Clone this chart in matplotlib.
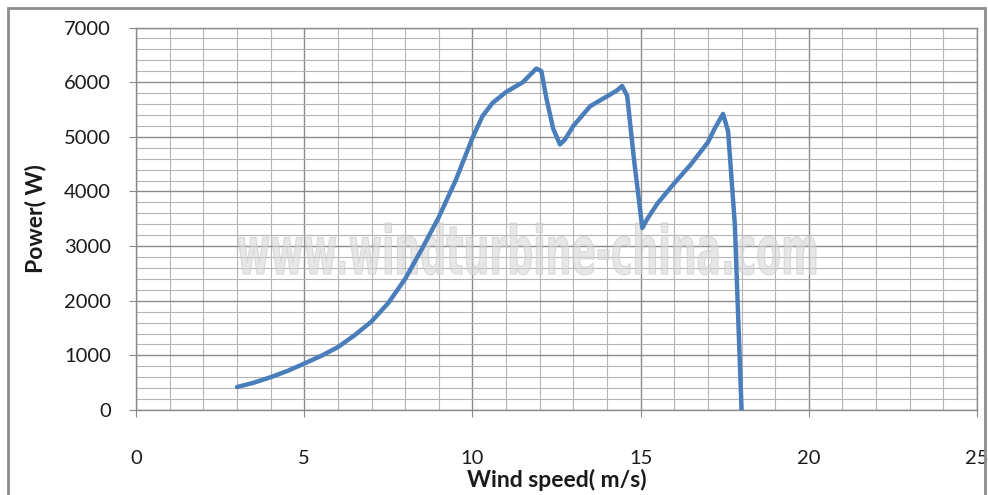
import numpy as np
import matplotlib.pyplot as plt
from matplotlib.ticker import MultipleLocator
from matplotlib.patches import Rectangle, PathPatch
from matplotlib.textpath import TextPath
from matplotlib.font_manager import FontProperties
from matplotlib.transforms import Affine2D, IdentityTransform

# Curva de potência
wind_speed = [3.0, 3.5, 4.0, 4.5, 5.0, 5.5, 6.0, 6.5, 7.0, 7.5, 8.0, 8.5, 9.0, 9.5,
              10.0, 10.3, 10.6, 11.0, 11.5, 11.9, 12.05, 12.2, 12.4, 12.6, 12.75,
              13.0, 13.5, 14.0, 14.3, 14.45, 14.6, 14.8, 15.05, 15.2, 15.5, 16.0,
              16.5, 17.0, 17.2, 17.45, 17.6, 17.8, 18.0]
power = [420, 500, 600, 715, 850, 990, 1150, 1370, 1620, 1960, 2400, 2950, 3530, 4200,
         4980, 5380, 5620, 5820, 6000, 6250, 6200, 5700, 5150, 4860, 4950,
         5200, 5560, 5740, 5850, 5930, 5750, 4600, 3330, 3500, 3780, 4150,
         4500, 4900, 5150, 5420, 5100, 3400, 0]

fig = plt.figure(figsize=(9.88, 4.95), dpi=100)
ax = fig.add_axes([0.1377, 0.1717, 0.8512, 0.7727])

# moldura externa do gráfico (estilo Excel)
fig.patches.append(Rectangle((8 / 988, -0.05), (985 - 8) / 988, 1.05 - 8 / 495,
                             transform=fig.transFigure, fill=False,
                             edgecolor='#8c8c8c', linewidth=2))

# marca d'água (texto estreito e alto, em pixels da figura)
tp = TextPath((0, 0), 'www.windturbine-china.com', size=1,
              prop=FontProperties(family='DejaVu Sans', weight='bold'))
bb = tp.get_extents()
wm = Affine2D().translate(-bb.x0, -bb.y0).scale(578 / bb.width, 52 / bb.height) \
    .translate(238, 495 - 275)
marca = PathPatch(wm.transform_path(tp), transform=IdentityTransform(),
                  facecolor='#d8d8d8', edgecolor='#c8c8c8', linewidth=0.8,
                  alpha=0.6, zorder=2, clip_on=False)
ax.add_artist(marca)

ax.plot(wind_speed, power, color='#4a7ebb', linewidth=3.2, solid_capstyle='round',
        solid_joinstyle='round', zorder=3)

ax.set_xlim(0, 25)
ax.set_ylim(0, 7000)
ax.xaxis.set_major_locator(MultipleLocator(5))
ax.xaxis.set_minor_locator(MultipleLocator(1))
ax.yaxis.set_major_locator(MultipleLocator(1000))
ax.yaxis.set_minor_locator(MultipleLocator(200))

ax.grid(which='major', color='#8a8a8a', linewidth=1.0)
ax.grid(which='minor', color='#b5b5b5', linewidth=0.8)
ax.set_axisbelow(True)

for s in ax.spines.values():
    s.set_color('#8a8a8a')
    s.set_linewidth(1.0)

ax.tick_params(which='major', length=5, color='#8a8a8a', labelsize=14.5,
               labelcolor='#1a1a1a')
ax.tick_params(axis='x', which='major', pad=24)
ax.tick_params(axis='y', which='major', pad=13)
ax.tick_params(which='minor', length=0)
for lab in ax.get_xticklabels() + ax.get_yticklabels():
    lab.set_family('Lato')

ax.set_xlabel('Wind speed( m/s)', fontsize=16.5, fontweight='bold', family='Lato',
              labelpad=1, color='#1a1a1a')
ax.set_ylabel('Power( W)', fontsize=16.5, fontweight='bold', family='Lato',
              labelpad=13, color='#1a1a1a')

plt.savefig('out.png', dpi=100)
